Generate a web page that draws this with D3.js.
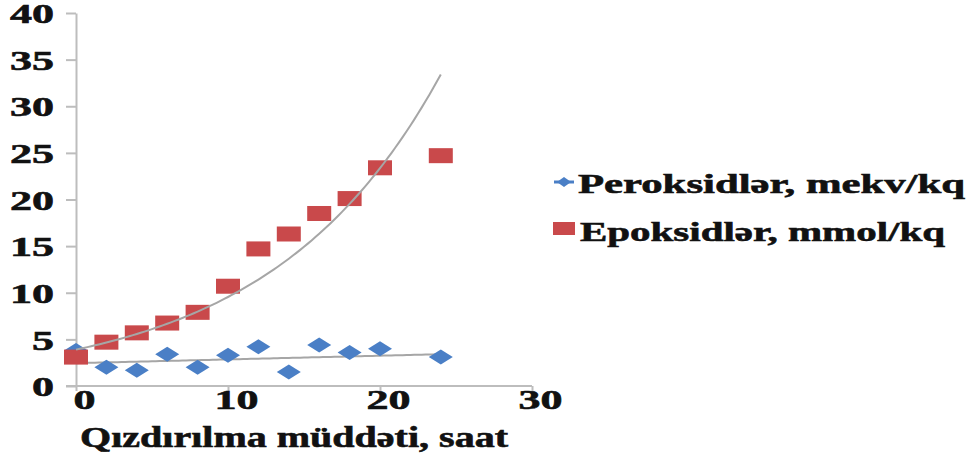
<!DOCTYPE html>
<html lang="en">
<head>
<meta charset="utf-8">
<script src="https://d3js.org/d3.v7.min.js"></script>
<style>
  body { margin: 0; background: #fff; }
</style>
</head>
<body>
<script>
// data
const hours = [0, 2, 4, 6, 8, 10, 12, 14, 16, 18, 20, 24];
const peroxides = [3.8, 2.0, 1.7, 3.4, 2.0, 3.3, 4.2, 1.5, 4.4, 3.6, 4.0, 3.1];
const epoxides = [3.1, 4.7, 5.7, 6.75, 7.9, 10.7, 14.7, 16.3, 18.5, 20.1, 23.4, 24.7];
const seriesNames = ["Peroksidlər, mekv/kq", "Epoksidlər, mmol/kq"];
const xTicks = [0, 10, 20, 30];
const yTicks = [0, 5, 10, 15, 20, 25, 30, 35, 40];
const xTitle = "Qızdırılma müddəti, saat";
// trendline coefficients
const expTrend = { a: 3.9, b: 0.0895 };   // epoxides, exponential
const linTrend = { c: 2.45, m: 0.04 };    // peroxides, linear

const W = 972, H = 456;
const blue = "#4a7fc6", red = "#c9494b", axisGrey = "#bdbdbd", trendGrey = "#a6a6a6";
const serif = "'Liberation Serif', 'DejaVu Serif', 'Times New Roman', serif";

const svg = d3.select("body").append("svg")
  .attr("width", W).attr("height", H);

const x = d3.scaleLinear().domain([0, 30]).range([76, 532]);
const y = d3.scaleLinear().domain([0, 40]).range([386, 13]);

// same heavy stretched serif for every label
function label(sel, size) {
  return sel.attr("font-family", null)
    .style("font-family", serif)
    .style("font-weight", "bold")
    .style("font-size", size + "px")
    .style("fill", "#111")
    .style("stroke", "#111")
    .style("stroke-width", 0.6)
    .attr("lengthAdjust", "spacingAndGlyphs");
}

// y axis
const gy = svg.append("g")
  .attr("transform", "translate(" + x(0) + ",0)")
  .call(d3.axisLeft(y).tickValues(yTicks).tickSize(10).tickSizeOuter(0));
gy.attr("font-family", null);
gy.select(".domain").attr("stroke", axisGrey).attr("stroke-width", 2);
gy.selectAll(".tick line").attr("stroke", axisGrey).attr("stroke-width", 2);
gy.selectAll(".tick text")
  .attr("x", -22).attr("dy", "0.36em")
  .call(label, 27)
  .attr("textLength", d => 22 * String(d).length);

// x axis
const gx = svg.append("g")
  .attr("transform", "translate(0," + y(0) + ")")
  .call(d3.axisBottom(x).tickValues(xTicks).tickSize(5).tickSizeOuter(0));
gx.attr("font-family", null);
gx.select(".domain").attr("stroke", axisGrey).attr("stroke-width", 2)
  .attr("d", "M" + (x(0) - 10) + ",0H" + x(30));
gx.selectAll(".tick line").attr("stroke", axisGrey).attr("stroke-width", 2);
gx.selectAll(".tick text")
  .attr("x", 8).attr("y", 23).attr("dy", 0)
  .call(label, 27)
  .attr("textLength", d => 22 * String(d).length);

// trendlines
const trendX = d3.range(0, 24.01, 0.25);
const line = d3.line().x(d => x(d[0])).y(d => y(d[1]));
svg.append("path")
  .datum(trendX.map(t => [t, linTrend.c + linTrend.m * t]))
  .attr("fill", "none").attr("stroke", trendGrey).attr("stroke-width", 2)
  .attr("d", line);

// markers
const diamond = "M0,-7.5L12,0L0,7.5L-12,0Z";
svg.append("g").selectAll("path")
  .data(hours.map((h, i) => [h, peroxides[i]]))
  .join("path")
  .attr("d", diamond)
  .attr("transform", d => "translate(" + x(d[0]) + "," + y(d[1]) + ")")
  .attr("fill", blue);

svg.append("g").selectAll("rect")
  .data(hours.map((h, i) => [h, epoxides[i]]))
  .join("rect")
  .attr("x", d => x(d[0]) - 12).attr("y", d => y(d[1]) - 7.5)
  .attr("width", 24).attr("height", 15)
  .attr("fill", red);

svg.append("path")
  .datum(trendX.map(t => [t, expTrend.a * Math.exp(expTrend.b * t)]))
  .attr("fill", "none").attr("stroke", trendGrey).attr("stroke-width", 2)
  .attr("d", line);

// x axis title
svg.append("text")
  .attr("x", 80).attr("y", 447)
  .call(label, 29)
  .attr("textLength", 428)
  .text(xTitle);

// legend
const lg = svg.append("g");
lg.append("line")
  .attr("x1", 554).attr("x2", 574).attr("y1", 182).attr("y2", 182)
  .attr("stroke", blue).attr("stroke-width", 3);
lg.append("path").attr("d", "M0,-5L7,0L0,5L-7,0Z")
  .attr("transform", "translate(564,182)").attr("fill", blue);
lg.append("text").attr("x", 578).attr("y", 193)
  .call(label, 28)
  .attr("textLength", 387)
  .text(seriesNames[0]);

lg.append("rect").attr("x", 553).attr("y", 222).attr("width", 22).attr("height", 13)
  .attr("fill", red);
lg.append("text").attr("x", 580).attr("y", 241)
  .call(label, 28)
  .attr("textLength", 365)
  .text(seriesNames[1]);
</script>
</body>
</html>
